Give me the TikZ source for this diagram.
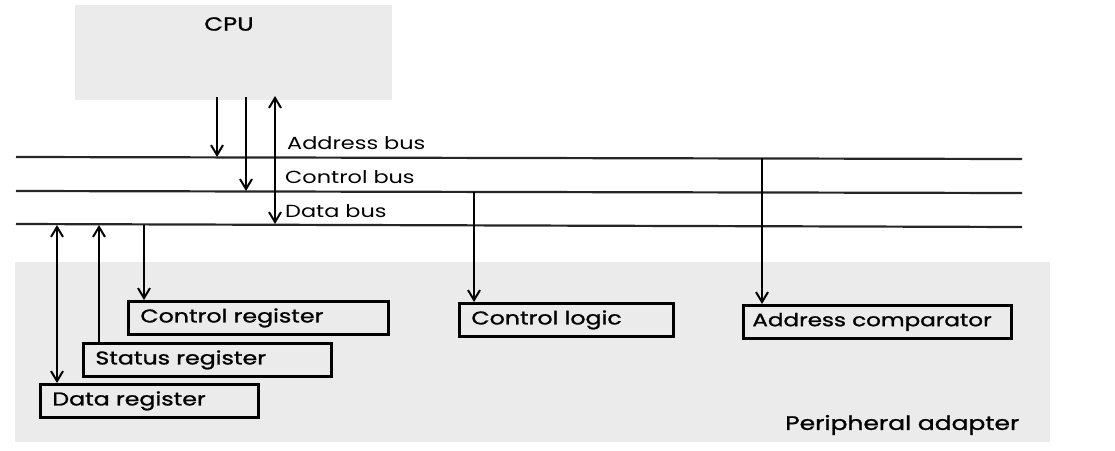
\documentclass[tikz,border=0pt]{standalone}
\usepackage{fontspec}
\setmainfont{Poppins}
\newfontfamily\gothic[FakeStretch=1.28]{Poppins}
\newfontfamily\gothicbold[FakeStretch=1.28,FakeBold=1.2]{Poppins}
\usetikzlibrary{arrows.meta,patterns}
\begin{document}
\begin{tikzpicture}[x=1pt,y=-1pt,
  tip/.tip={Straight Barb[length=10pt,width=12pt,line width=2pt]},
  bus/.style={line width=2.2pt, black!85},
  conn/.style={line width=2.3pt, -tip},
  dconn/.style={line width=2.3pt, tip-tip},
  regbox/.style={draw, line width=2.8pt, anchor=north west, inner xsep=12pt, inner ysep=0pt,
    minimum height=33pt, align=left, font=\gothicbold\fontsize{18.5}{20}\selectfont},
  buslabel/.style={anchor=west, font=\gothic\fontsize{17.5}{19}\selectfont, inner sep=0pt},
  shade/.style={fill=black!8, draw=none}
]
\useasboundingbox (0,0) rectangle (1115,450);
% shaded areas
\fill[shade] (75,5) rectangle (392,100);
\fill[shade] (15,262) rectangle (1050,442);
\node[font=\gothicbold\fontsize{19}{21}\selectfont, inner sep=0pt] (cpu) at (229,24) {CPU};

% buses
\coordinate (abL) at (16,157); \coordinate (abR) at (1022,159);
\coordinate (cbL) at (16,191); \coordinate (cbR) at (1022,193);
\coordinate (dbL) at (16,224); \coordinate (dbR) at (1022,227);
\draw[bus] (abL) -- (abR);
\draw[bus] (cbL) -- (cbR);
\draw[bus] (dbL) -- (dbR);
\node[buslabel] (abl) at (287,143) {Address bus};
\node[buslabel] (cbl) at (285,177) {Control bus};
\node[buslabel] (dbl) at (285,211) {Data bus};

% CPU connections
\coordinate (c1) at (217,97); \coordinate (c1b) at (217,157);
\coordinate (c2) at (246,97); \coordinate (c2b) at (246,191);
\coordinate (c3) at (275,96); \coordinate (c3b) at (275,224);
\draw[conn] (c1) -- (c1b);
\draw[conn] (c2) -- (c2b);
\draw[dconn] (c3) -- (c3b);

% boxes
\node[regbox, text width=236pt] (creg) at (127,300) {\mbox{Control register}};
\node[regbox, text width=224pt] (sreg) at (82,342) {\mbox{Status register}};
\node[regbox, text width=194pt] (dreg) at (39,383) {\mbox{Data register}};
\node[regbox, text width=190pt] (clog) at (458,302) {\mbox{Control logic}};
\node[regbox, inner xsep=9pt, text width=250pt] (acmp) at (742,304) {\mbox{\fontsize{18}{20}\selectfont Address comparator}};
\node[anchor=west, font=\gothicbold\fontsize{19.5}{21}\selectfont, inner sep=0pt] (padp) at (785,425) {Peripheral adapter};

% peripheral connections
\coordinate (d1) at (57,225);
\coordinate (d2) at (99,225);
\coordinate (d3) at (144,225);
\coordinate (d4) at (474,192);
\coordinate (d5) at (762,158);
\draw[dconn] (d1) -- (d1 |- dreg.north);
\draw[conn] (d2 |- sreg.north) -- (d2);
\draw[conn] (d3) -- (d3 |- creg.north);
\draw[conn] (d4) -- (d4 |- clog.north);
\draw[conn] (d5) -- (d5 |- acmp.north);
\end{tikzpicture}
\end{document}
